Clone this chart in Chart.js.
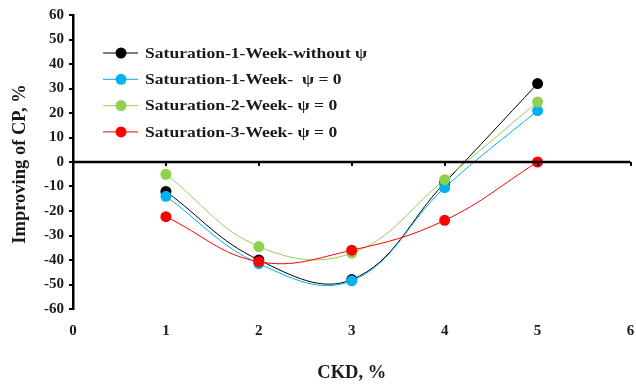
<!DOCTYPE html>
<html>
<head>
<meta charset="utf-8">
<script src="https://cdn.jsdelivr.net/npm/chart.js@4"></script>
<style>
  html, body { margin: 0; padding: 0; background: #fff; }
  #wrap { width: 636px; height: 384px; position: relative; }
</style>
</head>
<body>
<div id="wrap"><canvas id="cpChart"></canvas></div>
<script>
  // CKD content, %
  let ckd = [1, 2, 3, 4, 5];

  // improving of CP, % for each saturation regime
  let sat1WithoutPsi = [-12, -40, -48, -8.5, 32];
  let sat1Psi0 = [-14, -41.5, -48.5, -10.5, 21];
  let sat2Psi0 = [-5, -34.5, -37.2, -7.2, 24.5];
  let sat3Psi0 = [-22.3, -40.7, -36, -23.8, 0];

  let seriesNames = [
    'Saturation-1-Week-without \u03C8',
    'Saturation-1-Week-  \u03C8 = 0',
    'Saturation-2-Week- \u03C8 = 0',
    'Saturation-3-Week- \u03C8 = 0'
  ];
  let seriesColors = ['#000000', '#00B0F0', '#92D050', '#FF0000'];
  let seriesValues = [sat1WithoutPsi, sat1Psi0, sat2Psi0, sat3Psi0];

  let yTicks = [-60, -50, -40, -30, -20, -10, 0, 10, 20, 30, 40, 50, 60];
  let xTicks = [0, 1, 2, 3, 4, 5, 6];

  let xTitle = 'CKD, %';
  let yTitle = 'Improving of CP, %';

  const serif = '"Liberation Serif", "Times New Roman", serif';
  const textColor = '#1a1a1a';

  // horizontal zero line with small tick marks, like an axis crossing at y = 0
  const zeroAxis = {
    id: 'zeroAxis',
    afterDatasetsDraw(chart) {
      const { ctx, scales: { x, y } } = chart;
      const py = Math.round(y.getPixelForValue(0));
      ctx.save();
      ctx.strokeStyle = '#000';
      ctx.lineWidth = 2.5;
      ctx.beginPath();
      ctx.moveTo(x.left, py);
      ctx.lineTo(x.right, py);
      ctx.stroke();
      ctx.lineWidth = 2;
      xTicks.forEach(v => {
        const px = Math.round(x.getPixelForValue(v));
        ctx.beginPath();
        ctx.moveTo(px, py);
        ctx.lineTo(px, py + 4);
        ctx.stroke();
      });
      ctx.restore();
    }
  };

  // axis titles and the legend inside the plot area
  const annotations = {
    id: 'annotations',
    afterDraw(chart) {
      const { ctx, scales: { x } } = chart;
      ctx.save();
      ctx.fillStyle = textColor;
      ctx.textAlign = 'center';
      ctx.textBaseline = 'middle';

      ctx.font = 'bold 18.5px ' + serif;
      ctx.fillText(xTitle, (x.left + x.right) / 2, 373);

      ctx.save();
      ctx.translate(20, 164);
      ctx.rotate(-Math.PI / 2);
      ctx.fillText(yTitle, 0, 0);
      ctx.restore();

      ctx.textAlign = 'left';
      seriesNames.forEach((name, i) => {
        const cy = 53 + i * 26.3;
        ctx.strokeStyle = seriesColors[i];
        ctx.lineWidth = 1;
        ctx.beginPath();
        ctx.moveTo(103, cy);
        ctx.lineTo(138, cy);
        ctx.stroke();
        ctx.fillStyle = seriesColors[i];
        ctx.beginPath();
        ctx.arc(121, cy, 5.5, 0, Math.PI * 2);
        ctx.fill();
        ctx.save();
        ctx.translate(145, cy + 1);
        ctx.scale(1.17, 1);
        ctx.font = 'bold 15px ' + serif;
        ctx.fillStyle = textColor;
        ctx.fillText(name, 0, 0);
        ctx.restore();
      });
      ctx.restore();
    }
  };

  let ctx = document.getElementById('cpChart').getContext('2d');

  let cpChart = new Chart(ctx, {
    type: 'line',
    data: {
      datasets: seriesValues.map((vals, i) => ({
        label: seriesNames[i],
        data: ckd.map((c, j) => ({ x: c, y: vals[j] })),
        borderColor: seriesColors[i],
        backgroundColor: seriesColors[i],
        pointBackgroundColor: seriesColors[i],
        pointBorderWidth: 0,
        pointRadius: 5.5,
        borderWidth: 1,
        tension: 0.4,
        fill: false,
        order: 3 - i
      }))
    },
    options: {
      responsive: true,
      maintainAspectRatio: false,
      animation: false,
      layout: { padding: { top: 15, right: -3, left: 0, bottom: 0 } },
      plugins: {
        legend: { display: false },
        tooltip: { enabled: false }
      },
      scales: {
        x: {
          type: 'linear',
          min: 0,
          max: 6,
          afterBuildTicks: axis => { axis.ticks = xTicks.map(v => ({ value: v })); },
          afterFit: axis => {
            axis.height = 75;
            axis.paddingLeft = 0;
            axis.paddingRight = 0;
          },
          grid: { display: false, drawTicks: false },
          border: { display: false },
          ticks: {
            padding: 13,
            color: textColor,
            font: { family: serif, size: 15, weight: 'bold' }
          }
        },
        y: {
          min: -60,
          max: 60,
          afterBuildTicks: axis => { axis.ticks = yTicks.map(v => ({ value: v })); },
          afterFit: axis => { axis.width = 73; },
          grid: { drawOnChartArea: false, drawTicks: true, tickLength: 4, color: '#000', lineWidth: 2 },
          border: { display: true, color: '#000', width: 2.5 },
          ticks: {
            padding: 5,
            color: textColor,
            font: { family: serif, size: 15, weight: 'bold' }
          }
        }
      }
    },
    plugins: [zeroAxis, annotations]
  });
</script>
</body>
</html>
